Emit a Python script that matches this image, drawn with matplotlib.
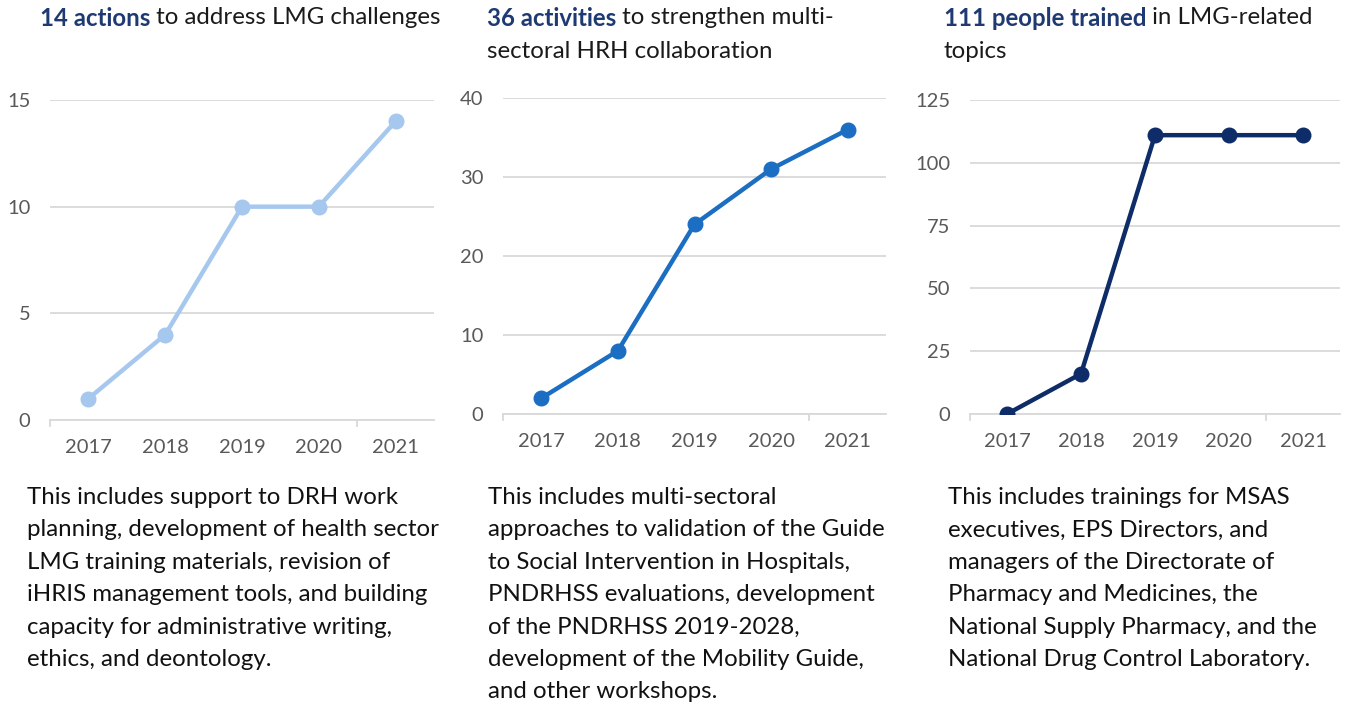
import matplotlib
matplotlib.use("Agg")
import matplotlib.pyplot as plt

plt.rcParams["font.family"] = ["Lato", "DejaVu Sans"]

YEARS = ["2017", "2018", "2019", "2020", "2021"]
actions = [1, 4, 10, 10, 14]
activities = [2, 8, 24, 31, 36]
trained = [0, 16, 111, 111, 111]

TITLE_BOLD = ["14 actions", "36 activities", "111 people trained"]
TITLE_REST = [" to address LMG challenges",
              " to strengthen multi-\nsectoral HRH collaboration",
              " in LMG-related\ntopics"]
BODY = [
    "This includes support to DRH work\nplanning, development of health sector\n"
    "LMG training materials, revision of\niHRIS management tools, and building\n"
    "capacity for administrative writing,\nethics, and deontology.",
    "This includes multi-sectoral\napproaches to validation of the Guide\n"
    "to Social Intervention in Hospitals,\nPNDRHSS evaluations, development\n"
    "of the PNDRHSS 2019-2028,\ndevelopment of the Mobility Guide,\nand other workshops.",
    "This includes trainings for MSAS\nexecutives, EPS Directors, and\n"
    "managers of the Directorate of\nPharmacy and Medicines, the\n"
    "National Supply Pharmacy, and the\nNational Drug Control Laboratory.",
]
SERIES = [actions, activities, trained]
COLORS = ["#a6c8ee", "#1b6ec2", "#0e2c68"]
YTICKS = [[0, 5, 10, 15], [0, 10, 20, 30, 40], [0, 25, 50, 75, 100, 125]]
NAVY = "#1f3a73"

W, H = 1346, 707
fig = plt.figure(figsize=(W / 100, H / 100), dpi=100)

# axes boxes in pixels: (left, right, top(y of max tick), bottom(y of 0))
boxes = [(50, 434, 100, 420), (503, 886, 98, 414), (970, 1340, 100, 414)]
title_x = [40, 487, 944]
body_x = [27, 488, 948]
TXT = 17.3

for i in range(3):
    l, r, t, b = boxes[i]
    ax = fig.add_axes([l / W, 1 - b / H, (r - l) / W, (b - t) / H])
    x = range(len(YEARS))
    ax.plot(x, SERIES[i], color=COLORS[i], lw=3.2, marker="o", ms=10.5, zorder=3)
    ax.set_xlim(-0.5, len(YEARS) - 0.5)
    ax.set_ylim(YTICKS[i][0], YTICKS[i][-1])
    ax.set_yticks(YTICKS[i])
    ax.set_xticks(list(x))
    ax.set_xticklabels(YEARS)
    ax.grid(axis="y", color="#d9d9d9", lw=1.3)
    ax.set_axisbelow(True)
    for s in ["top", "right", "left"]:
        ax.spines[s].set_visible(False)
    ax.spines["bottom"].set_color("#d9d9d9")
    ax.spines["bottom"].set_linewidth(1.3)
    ax.tick_params(axis="both", length=0, labelsize=14.5, colors="#595959")
    ax.tick_params(axis="x", pad=14)
    ax.tick_params(axis="y", pad=14)
    # category boundary ticks
    for xb in [-0.5, len(YEARS) - 1.5]:
        ax.plot([xb, xb], [0, -0.02], transform=ax.get_xaxis_transform(),
                color="#d9d9d9", lw=1.3, clip_on=False)
    ax.patch.set_alpha(0)

    # title with bold lead
    tb = fig.text(title_x[i] / W, 1 - 18 / H, TITLE_BOLD[i], fontsize=TXT,
                  fontweight="bold", color=NAVY, va="center", ha="left")
    fig.canvas.draw()
    ext = tb.get_window_extent()
    rest_lines = TITLE_REST[i].split("\n")
    fig.text(ext.x1 / W, 1 - 18 / H, rest_lines[0], fontsize=TXT,
             color="#1a1a1a", va="center", ha="left")
    for j, line in enumerate(rest_lines[1:]):
        fig.text(title_x[i] / W, 1 - (52 + 34 * j) / H, line, fontsize=TXT,
                 color="#1a1a1a", va="center", ha="left")

    fig.text(body_x[i] / W, 1 - 487 / H, BODY[i], fontsize=TXT, color="#111111",
             va="top", ha="left", linespacing=1.67)

fig.savefig("out.png", dpi=100)
